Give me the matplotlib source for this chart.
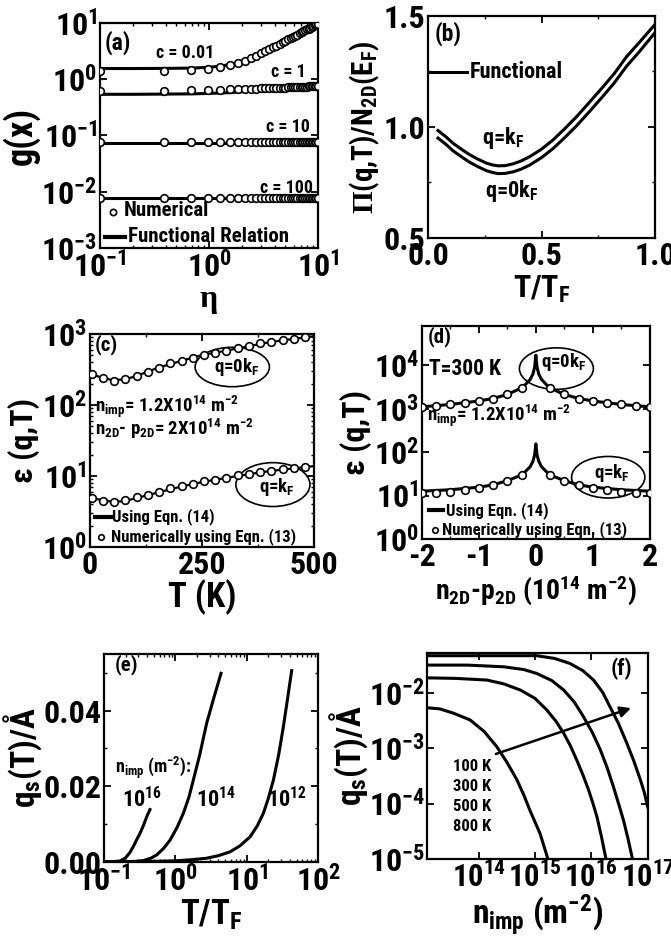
import numpy as np
import matplotlib
matplotlib.use('Agg')
import matplotlib.pyplot as plt
from matplotlib import font_manager
from matplotlib.patches import Ellipse
from matplotlib.ticker import FuncFormatter, MultipleLocator, FixedLocator

installed = {f.name for f in font_manager.fontManager.ttflist}
FONT = 'Liberation Sans'
for cand in ['Liberation Sans Narrow', 'Roboto Condensed', 'Open Sans Condensed', 'Noto Sans Condensed']:
    if cand in installed:
        FONT = cand
        break
narrow = FONT != 'Liberation Sans'
K = 1.0 if narrow else 0.85    # shrink everything if only a wide font is around
TS = 23 * K     # tick labels
LS = 23 * K     # axis labels

plt.rcParams['font.family'] = [FONT, 'DejaVu Sans']
plt.rcParams['font.weight'] = 'bold'
plt.rcParams['axes.labelweight'] = 'bold'
plt.rcParams['mathtext.fontset'] = 'custom'
plt.rcParams['mathtext.bf'] = FONT + ':bold'
plt.rcParams['mathtext.rm'] = 'Liberation Serif:bold'
plt.rcParams['mathtext.default'] = 'bf'

# ---- (a) g(x) vs eta
eta_num = [0.10, 0.39, 0.68, 0.97, 1.26, 1.55, 1.84, 2.13, 2.42, 2.71, 3.00, 3.29,
           3.58, 3.87, 4.16, 4.45, 4.74, 5.03, 5.32, 5.61, 5.90, 6.19, 6.48, 6.77,
           7.06, 7.35, 7.64, 7.93, 8.22, 8.51, 8.80, 9.09, 9.38, 9.67, 9.96]
g_num_c001 = [1.38, 1.39, 1.44, 1.50, 1.64, 1.80, 1.97, 2.15, 2.38, 2.62, 2.88, 3.15,
              3.42, 3.70, 3.98, 4.26, 4.54, 4.82, 5.10, 5.39, 5.67, 5.96, 6.24, 6.53,
              6.82, 7.10, 7.39, 7.68, 7.96, 8.25, 8.54, 8.83, 9.12, 9.41, 9.70]
g_num_c1 = [0.62, 0.63, 0.64, 0.645, 0.65, 0.66, 0.665, 0.67, 0.675, 0.68, 0.685, 0.69,
            0.695, 0.70, 0.70, 0.705, 0.71, 0.71, 0.715, 0.72, 0.72, 0.725, 0.73, 0.73,
            0.735, 0.735, 0.74, 0.74, 0.745, 0.745, 0.75, 0.75, 0.755, 0.755, 0.76]
g_num_c10 = [0.076] * 35
g_num_c100 = [0.0079] * 35

eta_line = [0.1, 0.2, 0.4, 0.7, 1.0, 1.3, 1.6, 2.0, 2.5, 3.0, 4.0, 5.0, 6.0, 7.0, 8.0, 9.0, 10.0]
g_line_c001 = [1.55, 1.55, 1.56, 1.58, 1.63, 1.72, 1.85, 2.08, 2.45, 2.85, 3.7, 4.6, 5.55, 6.5, 7.5, 8.5, 9.6]
g_line_c1 = [0.54, 0.54, 0.545, 0.55, 0.56, 0.57, 0.58, 0.60, 0.62, 0.64, 0.67, 0.69, 0.71, 0.725, 0.74, 0.75, 0.76]
g_line_c10 = [0.074] * 17
g_line_c100 = [0.0078] * 17

# ---- (b) Pi(q,T)/N2D(EF) vs T/TF
t_b = [0.044, 0.08, 0.11, 0.15, 0.184, 0.22, 0.258, 0.285, 0.309, 0.34, 0.375, 0.41,
       0.449, 0.50, 0.551, 0.60, 0.655, 0.71, 0.772, 0.82, 0.875, 0.93, 1.0]
pi_qkf = [0.984, 0.955, 0.927, 0.898, 0.875, 0.855, 0.837, 0.829, 0.825, 0.826, 0.834, 0.847,
          0.867, 0.900, 0.942, 0.990, 1.047, 1.110, 1.182, 1.240, 1.317, 1.380, 1.462]
pi_q0 = [0.950, 0.921, 0.893, 0.864, 0.841, 0.821, 0.803, 0.795, 0.790, 0.791, 0.798, 0.810,
         0.829, 0.862, 0.903, 0.950, 1.006, 1.068, 1.140, 1.198, 1.274, 1.338, 1.425]

# ---- (c) eps(q,T) vs T
T_num = [5, 30, 55, 80, 105, 130, 155, 180, 205, 230, 255, 280, 305, 330, 355, 380, 405, 430, 455, 480]
eps_c_q0_num = [271, 238, 220, 231, 257, 295, 336, 387, 421, 464, 512, 546, 582, 630, 678, 740, 780, 824, 851, 899]
eps_c_kf_num = [4.9, 4.48, 4.34, 4.52, 4.99, 5.44, 5.94, 6.67, 7.2, 7.77, 8.37, 8.84, 9.5, 10.2, 10.7, 11.3, 11.9, 12.5, 12.9, 13.6]
T_line = [0, 25, 50, 75, 100, 150, 200, 250, 300, 350, 400, 450, 500]
eps_c_q0_line = [280, 245, 225, 228, 250, 330, 410, 505, 575, 665, 765, 845, 930]
eps_c_kf_line = [5.0, 4.6, 4.35, 4.4, 4.8, 5.8, 7.0, 8.2, 9.3, 10.5, 11.7, 12.7, 13.8]

# ---- (d) eps(q,T) vs n2D - p2D
n_num = [-2.0, -1.75, -1.5, -1.25, -1.0, -0.75, -0.5, -0.25, 0.25, 0.5, 0.75, 1.0, 1.25, 1.5, 1.75, 2.0]
eps_d_q0_num = [1120, 1150, 1260, 1380, 1500, 1700, 2150, 3070, 3070, 2150, 1700, 1500, 1380, 1260, 1150, 1120]
eps_d_kf_num = [11.5, 11.5, 12.2, 13.3, 15.1, 17.3, 21.4, 30.5, 30.5, 21.4, 17.3, 15.1, 13.3, 12.2, 11.5, 11.5]
n_line = [-2.0, -1.5, -1.0, -0.75, -0.5, -0.3, -0.2, -0.1, -0.05, -0.02, 0.0,
          0.02, 0.05, 0.1, 0.2, 0.3, 0.5, 0.75, 1.0, 1.5, 2.0]
eps_d_q0_line = [1100, 1250, 1500, 1720, 2120, 2800, 3400, 4700, 6300, 9200, 17000,
                 9200, 6300, 4700, 3400, 2800, 2120, 1720, 1500, 1250, 1100]
eps_d_kf_line = [12.6, 13.6, 15.6, 17.6, 22.0, 28.0, 34.0, 46.0, 62.0, 88.0, 155.0,
                 88.0, 62.0, 46.0, 34.0, 28.0, 22.0, 17.6, 15.6, 13.6, 12.6]

# ---- (e) qs(T) vs T/TF
t_e16 = [0.10, 0.13, 0.168, 0.20, 0.23, 0.257, 0.29, 0.319, 0.36, 0.396, 0.44]
qs_e16 = [0.0, 0.0, 0.0002, 0.0010, 0.0024, 0.0040, 0.0060, 0.0075, 0.0098, 0.0119, 0.0138]
t_e14 = [0.10, 0.2, 0.28, 0.355, 0.45, 0.547, 0.68, 0.84, 1.05, 1.29, 1.55, 1.78, 2.2, 2.73, 3.4, 4.35]
qs_e14 = [0.0, 0.0, 0.0001, 0.0003, 0.0009, 0.0018, 0.0035, 0.0057, 0.0090, 0.0128, 0.0172, 0.0216, 0.0285, 0.0366, 0.0430, 0.0499]
t_e12 = [0.10, 0.3, 0.5, 0.94, 1.6, 2.7, 4.0, 5.8, 8.0, 11.1, 14.0, 17.0, 20.0, 23.5, 28.0, 32.4, 37.0, 42.4]
qs_e12 = [0.0, 0.0, 0.0001, 0.0002, 0.0005, 0.0009, 0.0016, 0.0026, 0.0042, 0.0066, 0.0095, 0.0128, 0.0168, 0.0216, 0.0285, 0.0357, 0.0430, 0.0506]

# ---- (f) qs(T) vs n_imp (log10 values)
lx_100 = [13.09, 13.31, 13.56, 13.85, 14.10, 14.32, 14.50, 14.68, 14.80, 14.91, 15.00, 15.09, 15.16, 15.23]
ly_100 = [-2.27, -2.29, -2.37, -2.49, -2.70, -2.97, -3.25, -3.57, -3.84, -4.12, -4.33, -4.54, -4.77, -5.0]
lx_300 = [13.09, 13.6, 14.15, 14.45, 14.74, 15.00, 15.21, 15.37, 15.51, 15.63, 15.74, 15.85, 15.95, 16.03, 16.10, 16.18, 16.26]
ly_300 = [-1.73, -1.74, -1.77, -1.84, -1.95, -2.10, -2.31, -2.51, -2.73, -2.96, -3.21, -3.48, -3.75, -4.00, -4.24, -4.60, -5.0]
lx_500 = [13.09, 13.8, 14.44, 14.8, 15.03, 15.30, 15.51, 15.70, 15.86, 16.02, 16.16, 16.28, 16.39, 16.48, 16.57, 16.65, 16.73]
ly_500 = [-1.50, -1.50, -1.53, -1.58, -1.65, -1.78, -1.95, -2.17, -2.43, -2.72, -3.03, -3.35, -3.69, -3.99, -4.30, -4.63, -5.0]
lx_800 = [13.09, 14.0, 14.6, 15.03, 15.35, 15.62, 15.85, 16.04, 16.20, 16.33, 16.48, 16.63, 16.75, 16.87, 16.94, 17.0]
ly_800 = [-1.33, -1.33, -1.33, -1.33, -1.38, -1.47, -1.60, -1.77, -1.99, -2.25, -2.55, -2.91, -3.22, -3.57, -3.80, -4.06]
temps_f = ['100 K', '300 K', '500 K', '800 K']

fig = plt.figure(figsize=(6.71, 9.46), dpi=100)
W, H = 671.0, 946.0


def add_ax(l, r, t, b):
    return fig.add_axes([l / W, 1 - b / H, (r - l) / W, (b - t) / H])


def style(ax):
    for s in ax.spines.values():
        s.set_linewidth(1.6)
    ax.tick_params(which='both', direction='in', top=True, right=True, labelsize=TS, pad=2)
    ax.tick_params(which='major', length=5, width=1.3)
    ax.tick_params(which='minor', length=2.5, width=1.0)


def pow_fmt(v, pos):
    if v <= 0:
        return ''
    e = int(round(np.log10(v)))
    return r'$\mathbf{10^{%d}}$' % e


def fs(x):
    return x * K


LW = 2.2
circ = dict(marker='o', ls='none', mfc='white', mec='k', ms=5.5, mew=1.2, zorder=3)

# ---------- (a)
ax = add_ax(100, 318, 23, 248)
for gl in [g_line_c001, g_line_c1, g_line_c10, g_line_c100]:
    ax.plot(eta_line, gl, 'k-', lw=LW)
for gn in [g_num_c001, g_num_c1, g_num_c10, g_num_c100]:
    ax.plot(eta_num, gn, **circ)
ax.set_xscale('log')
ax.set_yscale('log')
ax.set_xlim(0.1, 10)
ax.set_ylim(1e-3, 10)
ax.xaxis.set_major_formatter(FuncFormatter(pow_fmt))
ax.yaxis.set_major_formatter(FuncFormatter(pow_fmt))
ax.yaxis.set_major_locator(FixedLocator([1e-3, 1e-2, 1e-1, 1, 10]))
style(ax)
ax.set_xlabel('η', fontsize=LS, family='Liberation Serif', labelpad=1)
ax.set_ylabel('g(x)', fontsize=LS + 3, labelpad=1)
ax.text(0.02, 0.91, '(a)', transform=ax.transAxes, fontsize=fs(17), va='center')
ax.text(0.60, 2.9, 'c = 0.01', fontsize=fs(13), ha='center', va='center')
ax.text(5.3, 1.33, 'c = 1', fontsize=fs(13), ha='center', va='center')
ax.text(5.3, 0.14, 'c = 10', fontsize=fs(13), ha='center', va='center')
ax.text(5.1, 0.0115, 'c = 100', fontsize=fs(13), ha='center', va='center')
ax.plot([0.061], [0.161], transform=ax.transAxes, **dict(circ, ms=4.5))
ax.text(0.11, 0.165, 'Numerical', transform=ax.transAxes, fontsize=fs(15), va='center')
ax.plot([0.023, 0.115], [0.048, 0.048], 'k-', lw=3, transform=ax.transAxes)
ax.text(0.13, 0.05, 'Functional Relation', transform=ax.transAxes, fontsize=fs(15), va='center')

# ---------- (b)
ax = add_ax(428, 655, 16, 238)
ax.plot(t_b, pi_qkf, 'k-', lw=LW)
ax.plot(t_b, pi_q0, 'k-', lw=LW)
ax.set_xlim(0, 1)
ax.set_ylim(0.5, 1.5)
ax.xaxis.set_major_locator(MultipleLocator(0.5))
ax.xaxis.set_minor_locator(MultipleLocator(0.25))
ax.yaxis.set_major_locator(MultipleLocator(0.5))
ax.yaxis.set_minor_locator(MultipleLocator(0.25))
ax.xaxis.set_major_formatter(FuncFormatter(lambda v, p: '%.1f' % v))
ax.yaxis.set_major_formatter(FuncFormatter(lambda v, p: '%.1f' % v))
style(ax)
ax.set_xlabel(r'T/T$_{\mathbf{F}}$', fontsize=LS, labelpad=2)
ax.set_ylabel(r'$\mathrm{\Pi}$(q,T)/N$_{\mathbf{2D}}$(E$_{\mathbf{F}}$)', fontsize=fs(21), labelpad=1)
ax.text(0.03, 0.92, '(b)', transform=ax.transAxes, fontsize=fs(17), va='center')
ax.plot([0, 0.17], [1.249, 1.249], 'k-', lw=LW)
ax.text(0.184, 1.25, 'Functional', fontsize=fs(16), va='center')
ax.text(0.24, 0.95, r'q=k$_{\mathbf{F}}$', fontsize=fs(16), va='center')
ax.text(0.25, 0.71, r'q=0k$_{\mathbf{F}}$', fontsize=fs(16), va='center')

# ---------- (c)
ax = add_ax(89.5, 314, 334, 547)
ax.plot(T_line, eps_c_q0_line, 'k-', lw=1.6)
ax.plot(T_line, eps_c_kf_line, 'k-', lw=1.6)
ax.plot(T_num, eps_c_q0_num, **circ)
ax.plot(T_num, eps_c_kf_num, **circ)
ax.set_yscale('log')
ax.set_xlim(0, 500)
ax.set_ylim(1, 1000)
ax.xaxis.set_major_locator(MultipleLocator(250))
ax.xaxis.set_minor_locator(MultipleLocator(125))
ax.yaxis.set_major_formatter(FuncFormatter(pow_fmt))
style(ax)
ax.set_xlabel('T (K)', fontsize=LS + 2, labelpad=0)
ax.set_ylabel('ε (q,T)', fontsize=LS, labelpad=1)
ax.text(0.025, 0.95, '(c)', transform=ax.transAxes, fontsize=fs(15), va='center')
ax.text(0.025, 0.656, r'n$_{\mathbf{imp}}$= 1.2X10$^{\mathbf{14}}$ m$^{\mathbf{-2}}$',
        transform=ax.transAxes, fontsize=fs(13.5), va='center')
ax.text(0.025, 0.555, r'n$_{\mathbf{2D}}$- p$_{\mathbf{2D}}$= 2X10$^{\mathbf{14}}$ m$^{\mathbf{-2}}$',
        transform=ax.transAxes, fontsize=fs(13.5), va='center')
ax.add_patch(Ellipse((0.636, 0.845), 0.331, 0.185, transform=ax.transAxes, fill=False, lw=1.2))
ax.add_patch(Ellipse((0.817, 0.293), 0.33, 0.206, transform=ax.transAxes, fill=False, lw=1.2))
ax.text(0.656, 0.847, r'q=0k$_{\mathbf{F}}$', transform=ax.transAxes, fontsize=fs(13.5), ha='center', va='center')
ax.text(0.834, 0.284, r'q=k$_{\mathbf{F}}$', transform=ax.transAxes, fontsize=fs(13.5), ha='center', va='center')
ax.plot([0.024, 0.094], [0.143, 0.143], 'k-', lw=3, transform=ax.transAxes)
ax.text(0.10, 0.143, 'Using Eqn. (14)', transform=ax.transAxes, fontsize=fs(12), va='center')
ax.plot([0.05], [0.047], transform=ax.transAxes, **dict(circ, ms=4))
ax.text(0.097, 0.05, 'Numerically using Eqn. (13)', transform=ax.transAxes, fontsize=fs(12), va='center')

# ---------- (d)
ax = add_ax(421.7, 650, 326, 539)
ax.plot(n_line, eps_d_q0_line, 'k-', lw=LW)
ax.plot(n_line, eps_d_kf_line, 'k-', lw=LW)
ax.plot(n_num, eps_d_q0_num, **circ)
ax.plot(n_num, eps_d_kf_num, **circ)
ax.set_yscale('log')
ax.set_xlim(-2, 2)
ax.set_ylim(1, 8e4)
ax.xaxis.set_major_locator(MultipleLocator(1))
ax.xaxis.set_minor_locator(MultipleLocator(0.5))
ax.yaxis.set_major_locator(FixedLocator([1, 10, 100, 1e3, 1e4]))
ax.yaxis.set_major_formatter(FuncFormatter(pow_fmt))
ax.xaxis.set_major_formatter(FuncFormatter(lambda v, p: '%d' % round(v)))
style(ax)
ax.set_xlabel(r'n$_{\mathbf{2D}}$-p$_{\mathbf{2D}}$ (10$^{\mathbf{14}}$ m$^{\mathbf{-2}}$)', fontsize=fs(20), labelpad=1)
ax.set_ylabel('ε (q,T)', fontsize=LS, labelpad=1)
ax.text(0.028, 0.95, '(d)', transform=ax.transAxes, fontsize=fs(15), va='center')
ax.text(0.03, 0.80, 'T=300 K', transform=ax.transAxes, fontsize=fs(15.5), va='center')
ax.text(0.025, 0.58, r'n$_{\mathbf{imp}}$= 1.2X10$^{\mathbf{14}}$ m$^{\mathbf{-2}}$',
        transform=ax.transAxes, fontsize=fs(13.5), va='center')
ax.add_patch(Ellipse((0.59, 0.80), 0.324, 0.195, transform=ax.transAxes, fill=False, lw=1.2))
ax.add_patch(Ellipse((0.817, 0.29), 0.321, 0.195, transform=ax.transAxes, fill=False, lw=1.2))
ax.text(0.623, 0.833, r'q=0k$_{\mathbf{F}}$', transform=ax.transAxes, fontsize=fs(13.5), ha='center', va='center')
ax.text(0.832, 0.31, r'q=k$_{\mathbf{F}}$', transform=ax.transAxes, fontsize=fs(13.5), ha='center', va='center')
ax.plot([0.033, 0.095], [0.134, 0.134], 'k-', lw=3, transform=ax.transAxes)
ax.text(0.106, 0.134, 'Using Eqn. (14)', transform=ax.transAxes, fontsize=fs(12), va='center')
ax.plot([0.058], [0.04], transform=ax.transAxes, **dict(circ, ms=4))
ax.text(0.088, 0.043, 'Numerically using Eqn. (13)', transform=ax.transAxes, fontsize=fs(12), va='center')

# ---------- (e)
ax = add_ax(104, 318.3, 654, 861.7)
ax.plot(t_e16, qs_e16, 'k-', lw=LW)
ax.plot(t_e14, qs_e14, 'k-', lw=LW)
ax.plot(t_e12, qs_e12, 'k-', lw=LW)
ax.set_xscale('log')
ax.set_xlim(0.1, 100)
ax.set_ylim(0, 0.055)
ax.xaxis.set_major_formatter(FuncFormatter(pow_fmt))
ax.yaxis.set_major_locator(MultipleLocator(0.02))
ax.yaxis.set_minor_locator(MultipleLocator(0.01))
ax.yaxis.set_major_formatter(FuncFormatter(lambda v, p: '%.2f' % v))
style(ax)
ax.set_xlabel(r'T/T$_{\mathbf{F}}$', fontsize=LS + 2, labelpad=0)
ax.set_ylabel(r'q$_{\mathbf{s}}$(T)/Å', fontsize=LS + 1, labelpad=-1)
ax.text(0.05, 0.947, '(e)', transform=ax.transAxes, fontsize=fs(15), va='center')
ax.text(0.05, 0.45, r'n$_{\mathbf{imp}}$ (m$^{\mathbf{-2}}$):', transform=ax.transAxes, fontsize=fs(13), va='center')
ax.text(0.083, 0.297, r'10$^{\mathbf{16}}$', transform=ax.transAxes, fontsize=fs(16), va='center')
ax.text(0.43, 0.297, r'10$^{\mathbf{14}}$', transform=ax.transAxes, fontsize=fs(16), va='center')
ax.text(0.76, 0.297, r'10$^{\mathbf{12}}$', transform=ax.transAxes, fontsize=fs(16), va='center')

# ---------- (f)
ax = add_ax(427.3, 647.7, 652.7, 859)
for lx, ly in [(lx_100, ly_100), (lx_300, ly_300), (lx_500, ly_500), (lx_800, ly_800)]:
    ax.plot(10 ** np.array(lx), 10 ** np.array(ly), 'k-', lw=LW)
ax.set_xscale('log')
ax.set_yscale('log')
ax.set_xlim(10 ** 13.09, 1e17)
ax.set_ylim(1e-5, 10 ** -1.276)
ax.xaxis.set_major_locator(FixedLocator([1e14, 1e15, 1e16, 1e17]))
ax.yaxis.set_major_locator(FixedLocator([1e-5, 1e-4, 1e-3, 1e-2]))
ax.xaxis.set_major_formatter(FuncFormatter(pow_fmt))
ax.yaxis.set_major_formatter(FuncFormatter(pow_fmt))
style(ax)
ax.tick_params(axis='x', labelsize=TS - 1)
ax.set_xlabel(r'n$_{\mathbf{imp}}$ (m$^{\mathbf{-2}}$)', fontsize=LS + 1, labelpad=0)
ax.set_ylabel(r'q$_{\mathbf{s}}$(T)/Å', fontsize=LS + 1, labelpad=-1)
ax.text(0.93, 0.924, '(f)', transform=ax.transAxes, fontsize=fs(16), ha='right', va='center')
for i, lab in enumerate(temps_f):
    ax.text(0.118, 0.447 - 0.097 * i, lab, transform=ax.transAxes, fontsize=fs(12), va='center')
ax.annotate('', xy=(10 ** 16.75, 10 ** -2.26), xytext=(10 ** 14.26, 10 ** -3.12),
            arrowprops=dict(arrowstyle='-|>', lw=1.8, color='k', mutation_scale=16))

fig.savefig('out.png', dpi=100)
